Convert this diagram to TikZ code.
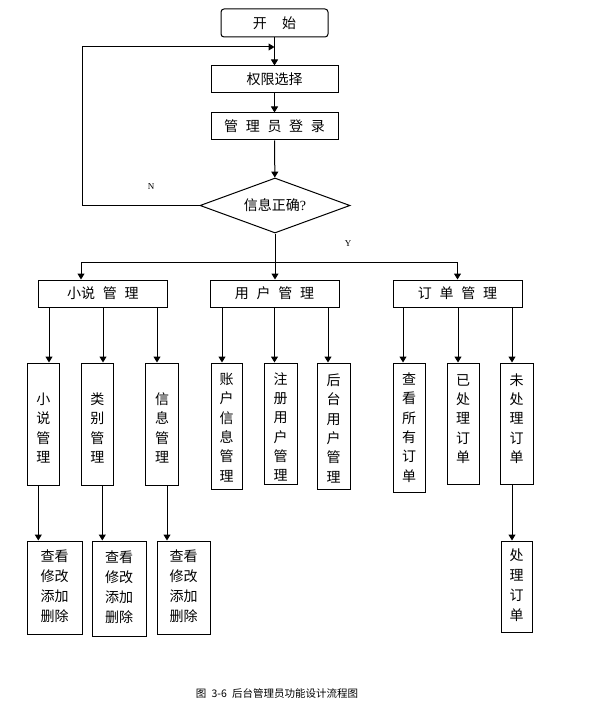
\documentclass[tikz,border=0pt]{standalone}
\usepackage{fontspec}
\setmainfont{Noto Sans CJK SC}
\newfontfamily\lat{Liberation Serif}
\usetikzlibrary{arrows.meta,shapes.geometric}
\newcommand{\vt}[2]{\raisebox{#1}[\height][\depth]{\begin{tabular}{@{}c@{}}#2\end{tabular}}}
\newcommand{\gsp}{\hspace{0.55em}}
\tikzset{
  box/.style={draw, line width=1pt, inner sep=0pt, font=\fontsize{14}{19.3}\selectfont},
  lowbox/.style={draw, line width=1pt, inner sep=0pt, font=\fontsize{14}{20}\selectfont},
  arr/.style={line width=1pt, -{Triangle[width=7pt,length=6pt]}},
  yn/.style={font=\lat\fontsize{9}{10}\selectfont, inner sep=0pt}
}
\begin{document}
\begin{tikzpicture}[x=1pt,y=-1pt]
\fill[white] (0,0) rectangle (592,714);
\useasboundingbox (0,0) rectangle (592,714);

% top chain
\node[box, rounded corners=3pt, minimum width=107pt, minimum height=28pt] (start) at (274.5,23) {开\hspace{1.1em}始};
\node[box, minimum width=127pt, minimum height=27pt] (qx) at (274.5,79.5) {权限选择};
\node[box, minimum width=127pt, minimum height=27pt] (login) at (274.5,126.5) {管\gsp 理\gsp 员\gsp 登\gsp 录};
\node[box, diamond, aspect=2.7, minimum width=150pt, minimum height=55pt] (dia) at (275,205.5) {信息正确{\lat ?}};

\coordinate (lp) at (274.5,47);
\coordinate (lc) at (82,205.5);
\draw[arr] (start) -- (qx);
\draw[arr] (qx) -- (login);
\draw[arr] (login) -- (dia);
\draw[arr] (dia.west) -- (lc) |- (lp);
\node[yn] (nlab) at (151,187) {N};
\node[yn] (ylab) at (348,244) {Y};

% second row
\node[box, minimum width=128.4pt, minimum height=27pt] (A) at (102.8,293.5) {小说\gsp 管\gsp 理};
\node[box, minimum width=129pt, minimum height=27pt] (B) at (274.5,293.5) {用\gsp 户\gsp 管\gsp 理};
\node[box, minimum width=129pt, minimum height=27pt] (C) at (457.5,293.5) {订\gsp 单\gsp 管\gsp 理};

\coordinate (bj) at (275,262);
\coordinate (bl) at (81,262);
\draw[arr] (dia.south) -- (dia.south |- B.north);
\draw[arr] (bj) -| (C.north);
\draw[arr] (bj) -- (bl) -- (bl |- A.north);

% third row
\node[box, minimum width=32pt, minimum height=122pt] (s1) at (43.3,424) {\vt{-5.5pt}{小\\说\\管\\理}};
\node[box, minimum width=32pt, minimum height=122pt] (s2) at (97.3,424) {\vt{-5.5pt}{类\\别\\管\\理}};
\node[box, minimum width=33.4pt, minimum height=122pt] (s3) at (162,424) {\vt{-5.5pt}{信\\息\\管\\理}};

\node[box, minimum width=31pt, minimum height=126pt] (u1) at (226.5,426) {\vt{-3pt}{账\\户\\信\\息\\管\\理}};
\node[box, minimum width=33pt, minimum height=121pt] (u2) at (280.5,423.5) {};
\begin{scope}
\clip (u2.south west) rectangle (u2.north east);
\node[font=\fontsize{14}{19.3}\selectfont, inner sep=0pt] (u2t) at (280.5,428.5) {\begin{tabular}{@{}c@{}}注\\册\\用\\户\\管\\理\end{tabular}};
\end{scope}
\node[box, minimum width=33pt, minimum height=126pt] (u3) at (333.5,426) {\vt{-4pt}{后\\台\\用\\户\\管\\理}};

\node[box, minimum width=32pt, minimum height=129pt] (o1) at (409,427.5) {\vt{-1.5pt}{查\\看\\所\\有\\订\\单}};
\node[box, minimum width=32pt, minimum height=121pt] (o2) at (463,423.5) {\vt{3.5pt}{已\\处\\理\\订\\单}};
\node[box, minimum width=33pt, minimum height=121pt] (o3) at (516.5,423.5) {\vt{3.5pt}{未\\处\\理\\订\\单}};

\coordinate (a1) at ([xshift=-53.8pt]A.south);
\coordinate (a2) at ([xshift=0.2pt]A.south);
\coordinate (a3) at ([xshift=54.2pt]A.south);
\draw[arr] (a1) -- (a1 |- s1.north);
\draw[arr] (a2) -- (a2 |- s2.north);
\draw[arr] (a3) -- (a3 |- s3.north);

\coordinate (b1) at ([xshift=-52.5pt]B.south);
\coordinate (b2) at ([xshift=0pt]B.south);
\coordinate (b3) at ([xshift=53.5pt]B.south);
\draw[arr] (b1) -- (b1 |- u1.north);
\draw[arr] (b2) -- (b2 |- u2.north);
\draw[arr] (b3) -- (b3 |- u3.north);

\coordinate (c1) at ([xshift=-54.5pt]C.south);
\coordinate (c2) at ([xshift=0.5pt]C.south);
\coordinate (c3) at ([xshift=54.5pt]C.south);
\draw[arr] (c1) -- (c1 |- o1.north);
\draw[arr] (c2) -- (c2 |- o2.north);
\draw[arr] (c3) -- (c3 |- o3.north);

% fourth row
\node[lowbox, minimum width=55pt, minimum height=93pt] (l1) at (54.5,587.5) {\begin{tabular}{@{}c@{}}查看\\修改\\添加\\删除\end{tabular}};
\node[lowbox, minimum width=54pt, minimum height=95pt] (l2) at (119,588.5) {\begin{tabular}{@{}c@{}}查看\\修改\\添加\\删除\end{tabular}};
\node[lowbox, minimum width=53pt, minimum height=93pt] (l3) at (183.5,587.5) {\begin{tabular}{@{}c@{}}查看\\修改\\添加\\删除\end{tabular}};
\node[lowbox, minimum width=31pt, minimum height=91pt] (p) at (516.5,586.5) {\begin{tabular}{@{}c@{}}处\\理\\订\\单\end{tabular}};

\coordinate (d1) at ([xshift=-5pt]s1.south);
\coordinate (d2) at ([xshift=5pt]s2.south);
\coordinate (d3) at ([xshift=5pt]s3.south);
\coordinate (d4) at ([xshift=-4.5pt]o3.south);
\draw[arr] (d1) -- (d1 |- l1.north);
\draw[arr] (d2) -- (d2 |- l2.north);
\draw[arr] (d3) -- (d3 |- l3.north);
\draw[arr] (d4) -- (d4 |- p.north);

% caption
\node[font=\fontsize{10.5}{12}\selectfont, inner sep=0pt] (cap) at (277,694) {图\hspace{0.5em}3-6\hspace{0.5em}后台管理员功能设计流程图};
\end{tikzpicture}
\end{document}
